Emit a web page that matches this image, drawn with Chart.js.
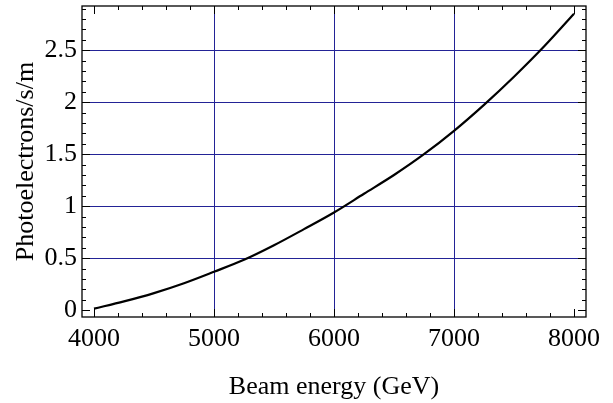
<!DOCTYPE html>
<html>
<head>
<meta charset="utf-8">
<script src="https://cdn.jsdelivr.net/npm/chart.js@4"></script>
<style>
html, body { margin: 0; padding: 0; background: #fff; }
</style>
</head>
<body>
<canvas id="chart" width="613" height="403"></canvas>
<script>
// beam energy (GeV) and photoelectron rate
const energy = [4000, 4250, 4500, 4750, 5000, 5250, 5500, 5750, 6000, 6250, 6500, 6750, 7000, 7250, 7500, 7750, 8000];
const rate   = [0.015, 0.085, 0.165, 0.26, 0.37, 0.485, 0.625, 0.78, 0.94, 1.12, 1.30, 1.50, 1.725, 1.975, 2.245, 2.535, 2.85];

const xTicks = [4000, 5000, 6000, 7000, 8000];
const yTicks = [0, 0.5, 1, 1.5, 2, 2.5];
const yTickLabels = ['0', '0.5', '1', '1.5', '2', '2.5'];
const xGrid = [5000, 6000, 7000];
const yGrid = [0.5, 1, 1.5, 2, 2.5];

const GRID_BLUE = 'rgb(35,35,150)';
const FONT = { family: '"Liberation Serif", "Times New Roman", serif', size: 26 };

// グリッド線（青）
const gridLines = {
    id: 'gridLines',
    beforeDatasetsDraw(chart) {
        const c = chart.ctx;
        const a = chart.chartArea;
        const sx = chart.scales.x, sy = chart.scales.y;
        c.save();
        c.strokeStyle = GRID_BLUE;
        c.lineWidth = 1;
        xGrid.forEach(v => {
            const x = Math.round(sx.getPixelForValue(v)) + 0.5;
            c.beginPath(); c.moveTo(x, a.top); c.lineTo(x, a.bottom); c.stroke();
        });
        yGrid.forEach(v => {
            const y = Math.round(sy.getPixelForValue(v)) + 0.5;
            c.beginPath(); c.moveTo(a.left, y); c.lineTo(a.right, y); c.stroke();
        });
        c.restore();
    }
};

// 枠と内向きの目盛り（上下左右）
const frameTicks = {
    id: 'frameTicks',
    afterDatasetsDraw(chart) {
        const c = chart.ctx;
        const a = chart.chartArea;
        const sx = chart.scales.x, sy = chart.scales.y;
        c.save();
        c.strokeStyle = '#000';
        c.lineWidth = 1;
        const tick = (x1, y1, x2, y2) => {
            c.beginPath(); c.moveTo(x1, y1); c.lineTo(x2, y2); c.stroke();
        };
        for (let v = 4000; v <= 8000; v += 200) {
            const len = v % 1000 == 0 ? 8 : 4;
            const x = Math.round(sx.getPixelForValue(v)) + 0.5;
            tick(x, a.bottom, x, a.bottom - len);
            tick(x, a.top, x, a.top + len);
        }
        for (let i = 0; i <= 29; i++) {
            const len = i % 5 == 0 ? 8 : 4;
            const y = Math.round(sy.getPixelForValue(i / 10)) + 0.5;
            tick(a.left, y, a.left + len, y);
            tick(a.right, y, a.right - len, y);
        }
        c.lineWidth = 1.3;
        c.strokeRect(a.left, a.top, a.right - a.left, a.bottom - a.top);
        c.restore();
    }
};

new Chart(document.getElementById('chart').getContext('2d'), {
    type: 'line',
    data: {
        datasets: [{
            data: energy.map((e, i) => ({ x: e, y: rate[i] })),
            borderColor: '#000',
            borderWidth: 2.2,
            pointRadius: 0,
            fill: false,
            cubicInterpolationMode: 'monotone'
        }]
    },
    plugins: [gridLines, frameTicks],
    options: {
        responsive: false,
        devicePixelRatio: 1,
        animation: false,
        layout: { padding: { left: 0, top: 6, right: 27, bottom: 0 } },
        plugins: { legend: { display: false }, tooltip: { enabled: false } },
        scales: {
            x: {
                type: 'linear',
                min: 3900,
                max: 8100,
                afterBuildTicks: s => { s.ticks = xTicks.map(v => ({ value: v })); },
                afterFit: s => { s.height = 86; s.paddingLeft = 0; s.paddingRight = 0; },
                ticks: { font: FONT, color: '#000', padding: 7, maxRotation: 0, autoSkip: false, callback: v => String(v) },
                grid: { display: false, drawTicks: false },
                border: { display: false },
                title: { display: true, text: 'Beam energy (GeV)', font: Object.assign({ lineHeight: 1 }, FONT), color: '#000', padding: { top: 0, bottom: 3 } }
            },
            y: {
                min: -0.065,
                max: 2.925,
                afterBuildTicks: s => { s.ticks = yTicks.map(v => ({ value: v })); },
                afterFit: s => { s.width = 82; s.paddingTop = 0; s.paddingBottom = 0; },
                ticks: { font: FONT, color: '#000', padding: 5, autoSkip: false, callback: v => yTickLabels[yTicks.indexOf(v)] },
                grid: { display: false, drawTicks: false },
                border: { display: false },
                title: { display: true, text: 'Photoelectrons/s/m', font: Object.assign({ lineHeight: 1 }, FONT), color: '#000', padding: { top: 13, bottom: 0 } }
            }
        }
    }
});
</script>
</body>
</html>
